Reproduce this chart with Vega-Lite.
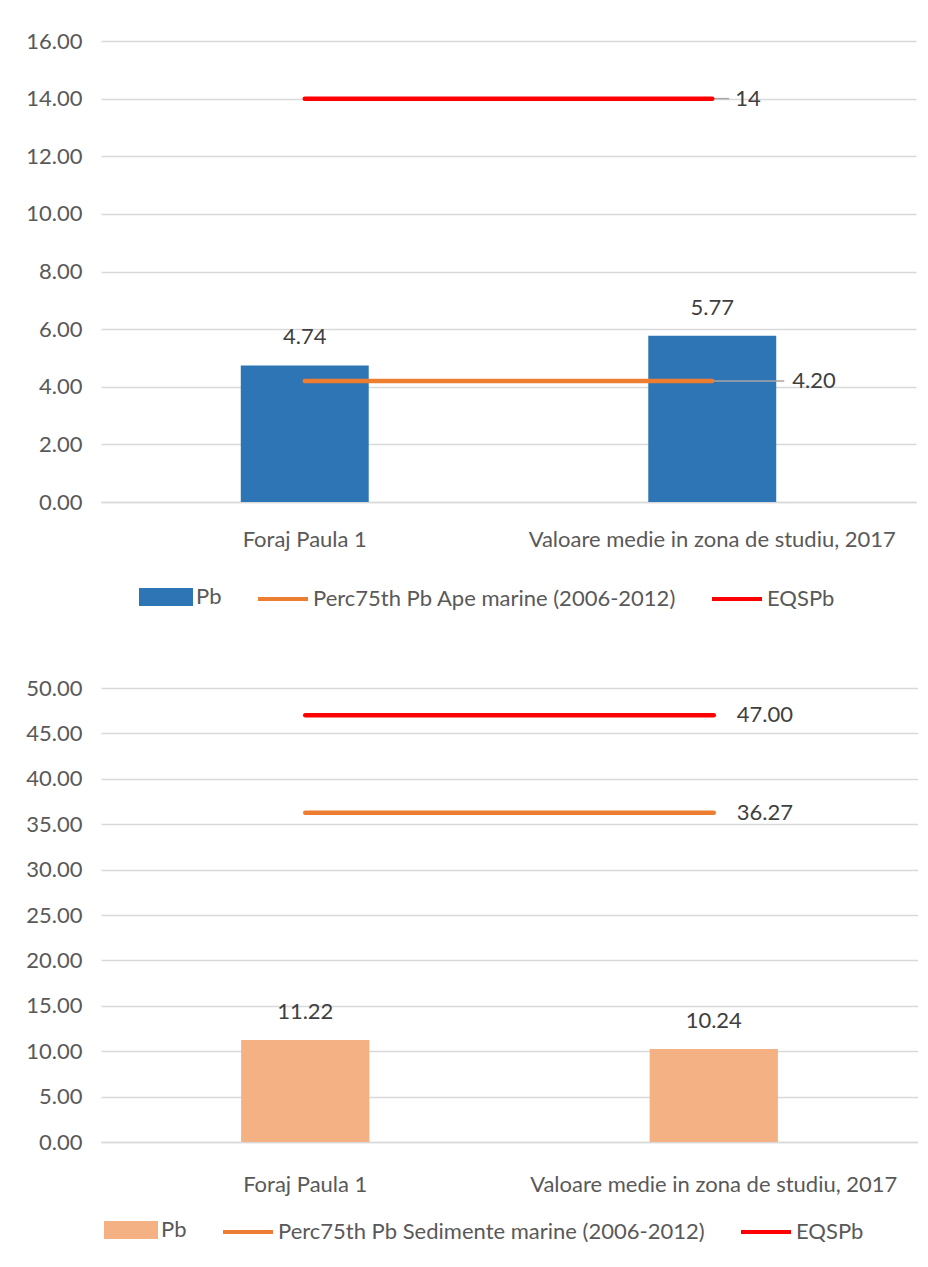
{
  "$schema": "https://vega.github.io/schema/vega-lite/v6.json",
  "background": "white",
  "padding": {"left": 25, "top": 30, "right": 0, "bottom": 0},
  "spacing": 65,
  "resolve": {"scale": {"color": "independent"}, "legend": {"color": "independent"}},
  "config": {
    "font": "Lato",
    "view": {"stroke": null},
    "axis": {
      "labelFont": "Lato",
      "labelFontSize": 22,
      "labelColor": "#595959",
      "ticks": false,
      "title": null,
      "gridColor": "#d9d9d9",
      "gridWidth": 1.5,
      "domainColor": "#d9d9d9",
      "domainWidth": 1.5
    },
    "legend": {
      "orient": "none",
      "direction": "horizontal",
      "title": null,
      "labelFont": "Lato",
      "labelFontSize": 22,
      "labelColor": "#595959",
      "labelBaseline": "middle",
      "symbolSize": 2500,
      "symbolStrokeWidth": 4,
      "labelOffset": 3,
      "labelLimit": 0
    }
  },
  "vconcat": [
    {
      "width": 815,
      "height": 461,
      "data": {
        "values": [
          {"cat": "Foraj Paula 1", "series": "Pb", "value": 4.74},
          {"cat": "Valoare medie in zona de studiu, 2017", "series": "Pb", "value": 5.77},
          {"cat": "Foraj Paula 1", "series": "Perc75th Pb Ape marine (2006-2012)", "value": 4.2},
          {"cat": "Valoare medie in zona de studiu, 2017", "series": "Perc75th Pb Ape marine (2006-2012)", "value": 4.2},
          {"cat": "Foraj Paula 1", "series": "EQSPb", "value": 14},
          {"cat": "Valoare medie in zona de studiu, 2017", "series": "EQSPb", "value": 14}
        ]
      },
      "encoding": {
        "x": {
          "field": "cat", "type": "nominal", "sort": null,
          "scale": {"paddingInner": 0, "paddingOuter": 0},
          "axis": {"labelAngle": 0, "labelPadding": 27, "domain": true, "grid": false, "labelLimit": 0}
        },
        "y": {
          "field": "value", "type": "quantitative",
          "scale": {"domain": [0, 16], "nice": false},
          "axis": {"values": [0, 2, 4, 6, 8, 10, 12, 14, 16], "format": ".2f", "labelPadding": 19, "domain": false, "grid": true}
        }
      },
      "layer": [
        {
          "transform": [{"filter": "datum.series === 'Pb'"}],
          "mark": {"type": "bar", "width": {"band": 0.314}},
          "encoding": {
            "color": {
              "field": "series", "type": "nominal",
              "scale": {"domain": ["Pb", "Perc75th Pb Ape marine (2006-2012)", "EQSPb"], "range": ["#2E75B6", "#ED7D31", "#FF0000"]},
              "legend": {
                "legendX": 38,
                "legendY": 529,
                "columnPadding": 28,
                "encode": {"symbols": {"update": {
                  "shape": {"signal": "datum.value === 'Pb' ? 'M-1,-0.28H1V0.28H-1Z' : 'M-1,0H1'"},
                  "fill": {"signal": "datum.value === 'Pb' ? '#2E75B6' : 'transparent'"},
                  "stroke": {"signal": "datum.value === 'Pb' ? 'transparent' : (datum.value === 'EQSPb' ? '#FF0000' : '#ED7D31')"},
                  "strokeWidth": {"value": 4}
                }}}
              }
            }
          }
        },
        {
          "transform": [{"filter": "datum.series === 'Pb'"}],
          "mark": {"type": "text", "dy": -28, "fontSize": 22, "color": "#404040", "baseline": "middle"},
          "encoding": {"text": {"field": "value", "type": "quantitative", "format": ".2f"}}
        },
        {
          "transform": [{"filter": "datum.series === 'EQSPb' && datum.cat !== 'Foraj Paula 1'"}],
          "mark": {"type": "rule", "color": "#a6a6a6", "strokeWidth": 1.5, "x2Offset": 17},
          "encoding": {"x2": {"field": "cat"}}
        },
        {
          "transform": [{"filter": "datum.series === 'Perc75th Pb Ape marine (2006-2012)' && datum.cat !== 'Foraj Paula 1'"}],
          "mark": {"type": "rule", "color": "#a6a6a6", "strokeWidth": 1.5, "x2Offset": 72},
          "encoding": {"x2": {"field": "cat"}}
        },
        {
          "transform": [{"filter": "datum.series !== 'Pb'"}],
          "mark": {"type": "line", "strokeWidth": 4.5, "strokeCap": "round"},
          "encoding": {
            "color": {"field": "series", "type": "nominal"},
            "detail": {"field": "series"}
          }
        },
        {
          "transform": [{"filter": "datum.series === 'EQSPb' && datum.cat !== 'Foraj Paula 1'"}],
          "mark": {"type": "text", "align": "left", "dx": 23, "fontSize": 22, "color": "#404040", "baseline": "middle"},
          "encoding": {"text": {"field": "value", "type": "quantitative", "format": ".0f"}}
        },
        {
          "transform": [{"filter": "datum.series === 'Perc75th Pb Ape marine (2006-2012)' && datum.cat !== 'Foraj Paula 1'"}],
          "mark": {"type": "text", "align": "left", "dx": 80, "fontSize": 22, "color": "#404040", "baseline": "middle"},
          "encoding": {"text": {"field": "value", "type": "quantitative", "format": ".2f"}}
        }
      ]
    },
    {
      "width": 817,
      "height": 454,
      "data": {
        "values": [
          {"cat": "Foraj Paula 1", "series": "Pb", "value": 11.22},
          {"cat": "Valoare medie in zona de studiu, 2017", "series": "Pb", "value": 10.24},
          {"cat": "Foraj Paula 1", "series": "Perc75th Pb Sedimente marine (2006-2012)", "value": 36.27},
          {"cat": "Valoare medie in zona de studiu, 2017", "series": "Perc75th Pb Sedimente marine (2006-2012)", "value": 36.27},
          {"cat": "Foraj Paula 1", "series": "EQSPb", "value": 47},
          {"cat": "Valoare medie in zona de studiu, 2017", "series": "EQSPb", "value": 47}
        ]
      },
      "encoding": {
        "x": {
          "field": "cat", "type": "nominal", "sort": null,
          "scale": {"paddingInner": 0, "paddingOuter": 0},
          "axis": {"labelAngle": 0, "labelPadding": 32, "domain": true, "grid": false, "labelLimit": 0}
        },
        "y": {
          "field": "value", "type": "quantitative",
          "scale": {"domain": [0, 50], "nice": false},
          "axis": {"values": [0, 5, 10, 15, 20, 25, 30, 35, 40, 45, 50], "format": ".2f", "labelPadding": 19, "domain": false, "grid": true}
        }
      },
      "layer": [
        {
          "transform": [{"filter": "datum.series === 'Pb'"}],
          "mark": {"type": "bar", "width": {"band": 0.314}},
          "encoding": {
            "color": {
              "field": "series", "type": "nominal",
              "scale": {"domain": ["Pb", "Perc75th Pb Sedimente marine (2006-2012)", "EQSPb"], "range": ["#F4B183", "#ED7D31", "#FF0000"]},
              "legend": {
                "legendX": 3,
                "legendY": 515,
                "columnPadding": 28,
                "encode": {"symbols": {"update": {
                  "shape": {"signal": "datum.value === 'Pb' ? 'M-1,-0.28H1V0.28H-1Z' : 'M-1,0H1'"},
                  "fill": {"signal": "datum.value === 'Pb' ? '#F4B183' : 'transparent'"},
                  "stroke": {"signal": "datum.value === 'Pb' ? 'transparent' : (datum.value === 'EQSPb' ? '#FF0000' : '#ED7D31')"},
                  "strokeWidth": {"value": 4}
                }}}
              }
            }
          }
        },
        {
          "transform": [{"filter": "datum.series === 'Pb'"}],
          "mark": {"type": "text", "dy": -28, "fontSize": 22, "color": "#404040", "baseline": "middle"},
          "encoding": {"text": {"field": "value", "type": "quantitative", "format": ".2f"}}
        },
        {
          "transform": [{"filter": "datum.series !== 'Pb'"}],
          "mark": {"type": "line", "strokeWidth": 4.5, "strokeCap": "round"},
          "encoding": {
            "color": {"field": "series", "type": "nominal"},
            "detail": {"field": "series"}
          }
        },
        {
          "transform": [{"filter": "datum.series !== 'Pb' && datum.cat !== 'Foraj Paula 1'"}],
          "mark": {"type": "text", "align": "left", "dx": 23, "fontSize": 22, "color": "#404040", "baseline": "middle"},
          "encoding": {"text": {"field": "value", "type": "quantitative", "format": ".2f"}}
        }
      ]
    }
  ]
}
